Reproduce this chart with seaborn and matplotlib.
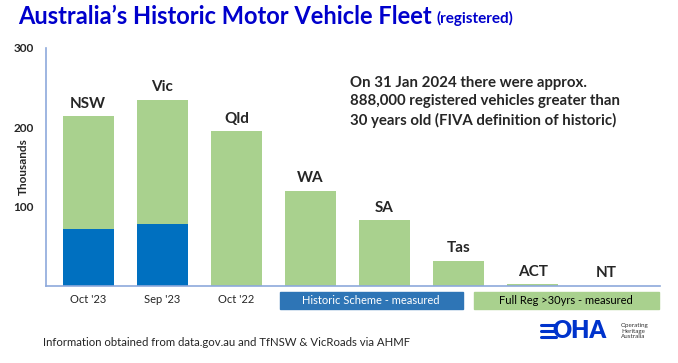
import matplotlib
matplotlib.use("Agg")
import matplotlib.pyplot as plt
import seaborn as sns
import pandas as pd
from matplotlib.patches import Rectangle
from matplotlib.lines import Line2D

states = ["NSW", "Vic", "Qld", "WA", "SA", "Tas", "ACT", "NT"]
total_k = [214, 235, 195, 120, 83, 32, 2, 0.5]
historic_k = [72, 78, 0, 0, 0, 0, 0, 0]
date_labels = ["Oct '23", "Sep '23", "Oct '22", "", "", "", "", ""]
y_ticks = [100, 200, 300]

df = pd.DataFrame({"state": states, "total": total_k, "historic": historic_k})

sns.set_theme(style="white")
plt.rcParams["font.family"] = ["Lato", "DejaVu Sans"]

GREEN = "#A9D18E"
BLUE = "#0070C0"
AXIS = "#8EA9DB"

fig = plt.figure(figsize=(6.78, 3.63), dpi=100)
ax = fig.add_axes([46 / 678, 77 / 363, 614 / 678, 238 / 363])

sns.barplot(data=df, x="state", y="total", color=GREEN, saturation=1,
            width=0.69, linewidth=0, ax=ax)
sns.barplot(data=df, x="state", y="historic", color=BLUE, saturation=1,
            width=0.69, linewidth=0, ax=ax)

ax.set_ylim(0, 300)
ax.set_xlim(-0.57, 7.72)
ax.set_yticks(y_ticks)
ax.set_yticklabels([str(v) for v in y_ticks], fontsize=8.5, fontweight="bold")
ax.set_xticks(range(len(states)))
ax.set_xticklabels(date_labels, fontsize=8)
ax.tick_params(axis="x", length=0, pad=6)
ax.tick_params(axis="y", direction="inout", length=14, color=AXIS, width=1, pad=2)
ax.set_xlabel("")
ax.set_ylabel("Thousands", fontsize=8.5, fontweight="bold", va="center")
ax.yaxis.set_label_coords((23 - 46) / 614, 0.5)
for s in ["top", "right"]:
    ax.spines[s].set_visible(False)
for s in ["left", "bottom"]:
    ax.spines[s].set_color(AXIS)
    ax.spines[s].set_linewidth(1.2)

for i, (st, v) in enumerate(zip(states, total_k)):
    ax.annotate(st, (i, v), xytext=(0, 9), textcoords="offset points",
                ha="center", va="center", fontsize=11, fontweight="bold")

fig.text(350 / 678, 1 - 102 / 363,
         "On 31 Jan 2024 there were approx.\n888,000 registered vehicles greater than\n30 years old (FIVA definition of historic)",
         ha="left", va="center", fontsize=10.8, fontweight="bold", linespacing=1.4)

# legend boxes
fig.patches.append(Rectangle((280 / 678, 1 - 309 / 363), 183 / 678, 17 / 363,
                             transform=fig.transFigure, color="#2E75B6"))
fig.patches.append(Rectangle((474 / 678, 1 - 309 / 363), 185 / 678, 17 / 363,
                             transform=fig.transFigure, color=GREEN))
fig.text(371 / 678, 1 - 300.5 / 363, "Historic Scheme - measured", color="white",
         ha="center", va="center", fontsize=8)
fig.text(566 / 678, 1 - 300.5 / 363, "Full Reg >30yrs - measured", color="black",
         ha="center", va="center", fontsize=8)

# title
t = fig.text(18 / 678, 1 - 16 / 363, "Australia\u2019s Historic Motor Vehicle Fleet",
             color="#0000CC", fontsize=17, fontweight="bold", ha="left", va="center")
fig.canvas.draw()
bb = t.get_window_extent()
fig.text((bb.x1 + 5) / 678, 1 - 18 / 363, "(registered)", color="#0000CC",
         fontsize=11, fontweight="bold", ha="left", va="center")

fig.text(43 / 678, 1 - 343 / 363,
         "Information obtained from data.gov.au and TfNSW & VicRoads via AHMF",
         fontsize=8.2, ha="left", va="center")

# logo
for yy in (325, 331, 337):
    fig.add_artist(Line2D([541 / 678, 556 / 678], [1 - yy / 363, 1 - yy / 363],
                          transform=fig.transFigure, color="#0033CC", lw=2.2))
fig.text(552 / 678, 1 - 331 / 363, "OHA", color="#0033CC", fontsize=17,
         fontweight="heavy", ha="left", va="center")
fig.text(621 / 678, 1 - 331 / 363, "Operating\nHeritage\nAustralia", color="#333333",
         fontsize=4.5, ha="left", va="center", linespacing=1.1)

fig.savefig("out.png", dpi=100)
